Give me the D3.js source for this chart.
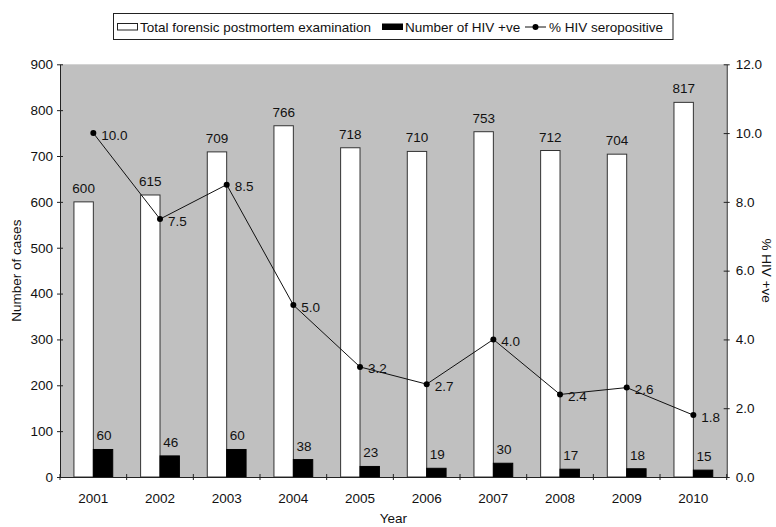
<!DOCTYPE html>
<html>
<head>
<meta charset="utf-8">
<script src="https://cdn.jsdelivr.net/npm/d3@7"></script>
<style>
  body { margin: 0; background: #fff; }
  text { font-family: "Liberation Sans", Arial, sans-serif; font-size: 13.5px; fill: #111; }
</style>
</head>
<body>
<svg id="chart" width="776" height="527"></svg>
<script>
const years = ["2001","2002","2003","2004","2005","2006","2007","2008","2009","2010"];
const totalExams = [600, 615, 709, 766, 718, 710, 753, 712, 704, 817];
const hivPositive = [60, 46, 60, 38, 23, 19, 30, 17, 18, 15];
const hivPercent = [10.0, 7.5, 8.5, 5.0, 3.2, 2.7, 4.0, 2.4, 2.6, 1.8];
const leftTicks = [0, 100, 200, 300, 400, 500, 600, 700, 800, 900];
const rightTicks = [0, 2, 4, 6, 8, 10, 12];
const seriesNames = ["Total forensic postmortem examination", "Number of HIV +ve", "% HIV seropositive"];

const svg = d3.select("#chart");
const m = { left: 60, right: 726.7, top: 64.3, bottom: 477 };

const x = d3.scaleBand().domain(years).range([m.left, m.right]).padding(0);
const y = d3.scaleLinear().domain([0, 900]).range([m.bottom, m.top]);
const y2 = d3.scaleLinear().domain([0, 12]).range([m.bottom, m.top]);
const bw = 19.4;

// plot background
svg.append("rect").attr("x", m.left).attr("y", m.top)
  .attr("width", m.right - m.left).attr("height", m.bottom - m.top)
  .attr("fill", "#c0c0c0");

const cx = d => x(d) + x.bandwidth() / 2;

// white bars
svg.append("g").selectAll("rect").data(years).join("rect")
  .attr("x", d => cx(d) - bw).attr("width", bw)
  .attr("y", (d, i) => y(totalExams[i]))
  .attr("height", (d, i) => y(0) - y(totalExams[i]))
  .attr("fill", "#fff").attr("stroke", "#333").attr("stroke-width", 1);

// black bars
svg.append("g").selectAll("rect").data(years).join("rect")
  .attr("x", d => cx(d)).attr("width", bw)
  .attr("y", (d, i) => y(hivPositive[i]))
  .attr("height", (d, i) => y(0) - y(hivPositive[i]))
  .attr("fill", "#000").attr("stroke", "#000").attr("stroke-width", 1);

// bar labels
svg.append("g").selectAll("text").data(years).join("text")
  .attr("x", d => cx(d) - bw / 2).attr("y", (d, i) => y(totalExams[i]) - 9)
  .attr("text-anchor", "middle").text((d, i) => totalExams[i]);
svg.append("g").selectAll("text").data(years).join("text")
  .attr("x", d => cx(d) + bw / 2 + 1).attr("y", (d, i) => y(hivPositive[i]) - 9)
  .attr("text-anchor", "middle").text((d, i) => hivPositive[i]);

// line
const line = d3.line().x((d, i) => cx(years[i])).y(d => y2(d));
svg.append("path").datum(hivPercent).attr("d", line)
  .attr("fill", "none").attr("stroke", "#111").attr("stroke-width", 1);
svg.append("g").selectAll("circle").data(hivPercent).join("circle")
  .attr("cx", (d, i) => cx(years[i])).attr("cy", d => y2(d)).attr("r", 3)
  .attr("fill", "#000");
svg.append("g").selectAll("text").data(hivPercent).join("text")
  .attr("x", (d, i) => cx(years[i]) + 8).attr("y", d => y2(d) + 6.5)
  .text(d => d.toFixed(1));

// axes
const axisColor = "#222";
const gl = svg.append("g").attr("transform", `translate(${m.left},0)`)
  .call(d3.axisLeft(y).tickValues(leftTicks).tickSize(3).tickPadding(4).tickSizeOuter(0));
const gr = svg.append("g").attr("transform", `translate(${m.right},0)`)
  .call(d3.axisRight(y2).tickValues(rightTicks).tickFormat(d3.format(".1f")).tickSize(3).tickPadding(6).tickSizeOuter(0));
const gb = svg.append("g").attr("transform", `translate(0,${m.bottom})`)
  .call(d3.axisBottom(x).tickSize(0).tickPadding(16).tickSizeOuter(0));
[gl, gr, gb].forEach(g => {
  g.select(".domain").attr("stroke", axisColor);
  g.selectAll(".tick line").attr("stroke", axisColor);
  g.selectAll(".tick text").attr("font-size", 13.5).attr("fill", "#111")
    .attr("font-family", '"Liberation Sans", Arial, sans-serif');
});
// crossing ticks
gl.selectAll(".tick line").attr("x1", 3);
gr.selectAll(".tick line").attr("x1", -3);
// category boundary ticks on bottom axis
svg.append("g").selectAll("line").data(years.slice(1).concat(["end"])).join("line")
  .attr("x1", (d, i) => i < years.length - 1 ? x(d) : m.right)
  .attr("x2", (d, i) => i < years.length - 1 ? x(d) : m.right)
  .attr("y1", m.bottom - 3).attr("y2", m.bottom + 3).attr("stroke", axisColor);
svg.append("line").attr("x1", m.left).attr("x2", m.left)
  .attr("y1", m.bottom - 3).attr("y2", m.bottom + 3).attr("stroke", axisColor);

// axis titles
svg.append("text").attr("transform", `translate(21,${(m.top + m.bottom) / 2}) rotate(-90)`)
  .attr("text-anchor", "middle").text("Number of cases");
svg.append("text").attr("transform", `translate(762,${(m.top + m.bottom) / 2}) rotate(90)`)
  .attr("text-anchor", "middle").text("% HIV +ve");
svg.append("text").attr("x", (m.left + m.right) / 2).attr("y", 523)
  .attr("text-anchor", "middle").text("Year");

// legend
const lg = svg.append("g");
lg.append("rect").attr("x", 113.5).attr("y", 13.5).attr("width", 559.5).attr("height", 26)
  .attr("fill", "#fff").attr("stroke", "#222").attr("stroke-width", 1);
lg.append("rect").attr("x", 117.5).attr("y", 23.5).attr("width", 20).attr("height", 6.5)
  .attr("fill", "#fff").attr("stroke", "#222");
lg.append("text").attr("x", 140).attr("y", 31.5).text(seriesNames[0]);
lg.append("rect").attr("x", 382).attr("y", 23.5).attr("width", 21).attr("height", 6.5)
  .attr("fill", "#000");
lg.append("text").attr("x", 405).attr("y", 31.5).text(seriesNames[1]);
lg.append("line").attr("x1", 525).attr("x2", 546).attr("y1", 27).attr("y2", 27)
  .attr("stroke", "#111");
lg.append("circle").attr("cx", 535.5).attr("cy", 27).attr("r", 3).attr("fill", "#000");
lg.append("text").attr("x", 549).attr("y", 31.5).text(seriesNames[2]);
</script>
</body>
</html>
